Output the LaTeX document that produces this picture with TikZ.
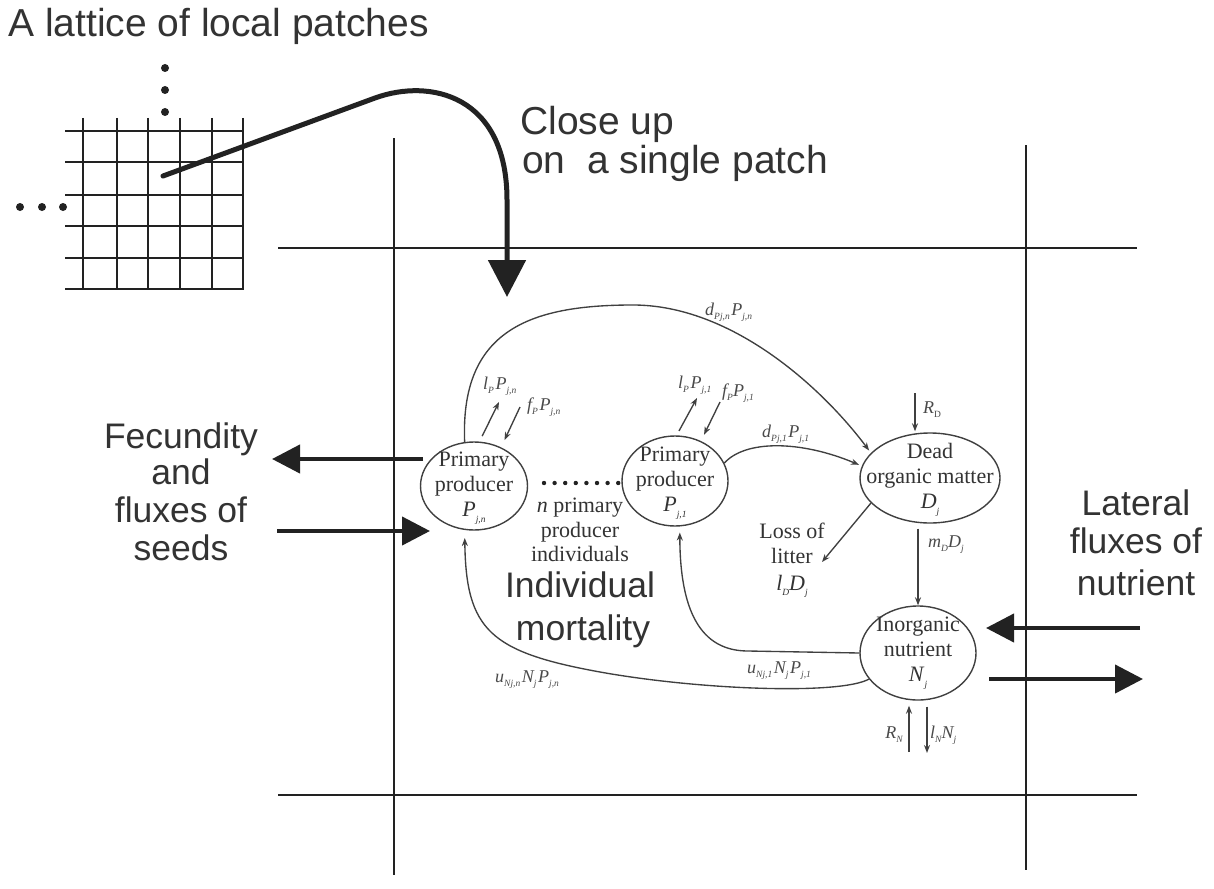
\documentclass[tikz,border=0pt]{standalone}
\usepackage{fontspec}
\setmainfont{Liberation Serif}
\newfontfamily\arialf{Liberation Sans}
\usetikzlibrary{arrows.meta,shapes.geometric,calc}
\definecolor{linec}{HTML}{404040}
\definecolor{darkc}{HTML}{222222}
\definecolor{textc}{HTML}{333333}
\definecolor{labc}{HTML}{4A4A4A}
\newcommand{\sbx}[1]{\raisebox{-0.25em}{\fontsize{9.5}{9.5}\selectfont #1}}
\tikzset{
  gridline/.style={draw=darkc, line width=2.4pt},
  crossline/.style={draw=darkc, line width=2.2pt},
  bigarrow/.style={draw=darkc, line width=4.2pt, -{Triangle[length=28pt,width=28pt]}},
  closearrow/.style={draw=darkc, line width=5pt, line cap=round, -{Triangle[length=37pt,width=37pt]}},
  ell/.style={draw=linec, line width=1.4pt, ellipse, inner sep=0pt},
  elltext/.style={align=center, font=\fontsize{22}{25}\selectfont, text=textc, inner sep=0pt},
  thinarrow/.style={draw=linec, line width=1.35pt, -{Stealth[length=8pt,width=6pt]}},
  lbl/.style={font=\fontsize{18}{18}\selectfont\itshape, text=labc, inner sep=0pt},
  serift/.style={font=\fontsize{22}{25}\selectfont, text=textc, inner sep=0pt},
  bigtxt/.style={font=\arialf\fontsize{35.5}{38}\selectfont, text=textc, inner sep=0pt},
  toptxt/.style={font=\arialf\fontsize{39}{40}\selectfont, text=textc, inner sep=0pt},
}
\begin{document}
\begin{tikzpicture}[x=1pt,y=-1pt]
\useasboundingbox (0,0) rectangle (1214,888);
\fill[white] (0,0) rectangle (1214,888);

% lattice
\foreach \yy in {131,162,195,226,258,289} \draw[gridline] (65,\yy) -- (243,\yy);
\foreach \xx in {83,117,148,180,212,243} \draw[gridline] (\xx,118) -- (\xx,290);
\foreach \yy in {68,90,112} \fill[darkc] (165,\yy) circle[radius=4pt];
\foreach \xx in {20,42,63} \fill[darkc] (\xx,207) circle[radius=4pt];

% cross lines
\draw[crossline] (394,138) -- (394,875);
\draw[crossline] (1026,145) -- (1026,870);
\draw[crossline] (278,248) -- (1137,248);
\draw[crossline] (278,795) -- (1137,795);

% close-up arrow
\coordinate (patch) at (163,176);
\coordinate (closeup) at (507,297);
\draw[closearrow] (patch) -- (375,98) .. controls (430,78) and (507,95) .. (507,200) -- (closeup);

% ellipses
\node[ell, minimum width=107pt, minimum height=88pt] (pn) at (474,486) {};
\node[ell, minimum width=106pt, minimum height=90pt] (p1) at (675,481) {};
\node[ell, minimum width=140pt, minimum height=90pt] (dom) at (930,478) {};
\node[ell, minimum width=116pt, minimum height=94pt] (inorg) at (918,653) {};
\node[elltext] (pnt) at ($(pn)+(0,2)$) {Primary\\producer\\\textit{P}\sbx{\textit{j,n}}};
\node[elltext] (p1t) at ($(p1)+(0,2)$) {Primary\\producer\\\textit{P}\sbx{\textit{j,1}}};
\node[elltext] (domt) at ($(dom)+(0,2)$) {Dead\\organic matter\\\textit{D}\sbx{\textit{j}}};
\node[elltext] (inorgt) at ($(inorg)+(0,0)$) {Inorganic\\nutrient\\\textit{N}\sbx{\textit{j}}};

% big horizontal arrows
\coordinate (fecL) at (272,459);
\coordinate (seedR) at (277,531);
\coordinate (latR) at (1140,628);
\coordinate (latOut) at (1143,679);
\draw[bigarrow] (423,459) -- (fecL);
\draw[bigarrow] (seedR) -- (430,531);
\draw[bigarrow] (latR) -- (986,628);
\draw[bigarrow] (989,679) -- (latOut);

% dotted line between producers
\foreach \i in {0,...,7} \fill[darkc] (544+\i*10.6,483) circle[radius=2.2pt];

% connectors
\draw[thinarrow, shorten >=3pt] (pn.102) .. controls (460,330) and (530,305) .. (633,305)
   .. controls (730,305) and (820,385) .. (dom.157);
\draw[thinarrow, shorten >=3pt] (p1.20) .. controls (745,440) and (800,440) .. (dom.170);

\coordinate (pnUp) at (499,402);
\coordinate (pnDn) at (520,407);
\draw[thinarrow, shorten <=6pt] (pn.83) -- (pnUp);
\draw[thinarrow, shorten >=8pt] (pnDn) -- (pn.55);
\coordinate (p1Up) at (697,398);
\coordinate (p1Dn) at (720,402);
\draw[thinarrow, shorten <=5pt] (p1.88) -- (p1Up);
\draw[thinarrow, shorten >=7pt] (p1Dn) -- (p1.57);

\coordinate (litter) at (822,562);
\draw[thinarrow] (dom.203) -- (litter);
\coordinate (rd) at (915,393);
\draw[thinarrow, shorten >=1pt] (rd) -- (rd |- dom.north);
\draw[thinarrow, shorten <=5pt] (inorg.north |- dom.south) -- (inorg.north);
\coordinate (rn) at (909,752);
\coordinate (ln) at (927,753);
\draw[thinarrow, shorten >=5pt] (rn) -- (rn |- inorg.south);
\draw[thinarrow, shorten <=6pt] (ln |- inorg.south) -- (ln);

\draw[thinarrow, shorten >=6pt] (inorg.west) -- (748,651) .. controls (700,651) and (680,610) .. (p1.276);
\draw[thinarrow, shorten >=8pt] (inorg.208) .. controls (840,695) and (700,690) .. (600,672)
   .. controls (490,652) and (466,630) .. (pn.258);

% labels
\node[lbl, anchor=base west] (l1) at (705,315) {d\sbx{Pj,n\,}P\sbx{j,n}};
\node[lbl, anchor=base west] (l2) at (762,437) {d\sbx{Pj,1\,}P\sbx{j,1}};
\node[lbl, anchor=base west] (l3) at (483,389) {l\sbx{P\,}P\sbx{j,n}};
\node[lbl, anchor=base west] (l4) at (527,410) {f\sbx{P\,}P\sbx{j,n}};
\node[lbl, anchor=base west] (l5) at (678,388) {l\sbx{P\,}P\sbx{j,1}};
\node[lbl, anchor=base west] (l6) at (722,396) {f\sbx{P}P\sbx{j,1}};
\node[lbl, anchor=base west] (l7) at (923,413) {R\sbx{\upshape D}};
\node[lbl, anchor=base west] (l8) at (928,547) {m\sbx{D}D\sbx{j}};
\node[lbl, anchor=base east] (l9) at (903,738) {R\sbx{N}};
\node[lbl, anchor=base west] (l10) at (930,738) {l\sbx{N}N\sbx{j}};
\node[lbl, anchor=base west] (l11) at (495,682) {u\sbx{Nj,n\,}N\sbx{j\,}P\sbx{j,n}};
\node[lbl, anchor=base west] (l12) at (747,673) {u\sbx{Nj,1\,}N\sbx{j\,}P\sbx{j,1}};

\node[serift, anchor=base] (ls1) at (792,538) {Loss of};
\node[serift, anchor=base] (ls2) at (792,563) {litter};
\node[serift, anchor=base] (ls3) at (792,590) {\textit{l}\sbx{\textit{D}}\textit{D}\sbx{\textit{j}}};

\node[serift, anchor=base] (np1) at (580,512) {\textit{n} primary};
\node[serift, anchor=base] (np2) at (580,537) {producer};
\node[serift, anchor=base] (np3) at (580,561) {individuals};

% sans texts
\node[toptxt, anchor=base west] (t1) at (8,37) {A lattice of local patches};
\node[toptxt, anchor=base west] (t2) at (520,135) {Close up};
\node[toptxt, anchor=base west] (t3) at (522,173) {on\ \ a single patch};

\node[bigtxt, anchor=base] (f1) at (181,448) {Fecundity};
\node[bigtxt, anchor=base] (f2) at (181,484) {and};
\node[bigtxt, anchor=base] (f3) at (181,522) {fluxes of};
\node[bigtxt, anchor=base] (f4) at (181,560) {seeds};

\node[bigtxt, anchor=base] (r1) at (1136,515) {Lateral};
\node[bigtxt, anchor=base] (r2) at (1136,553) {fluxes of};
\node[bigtxt, anchor=base] (r3) at (1136,595) {nutrient};

\node[bigtxt, anchor=base] (m1) at (580,597) {Individual};
\node[bigtxt, anchor=base] (m2) at (583,640) {mortality};
\end{tikzpicture}
\end{document}
